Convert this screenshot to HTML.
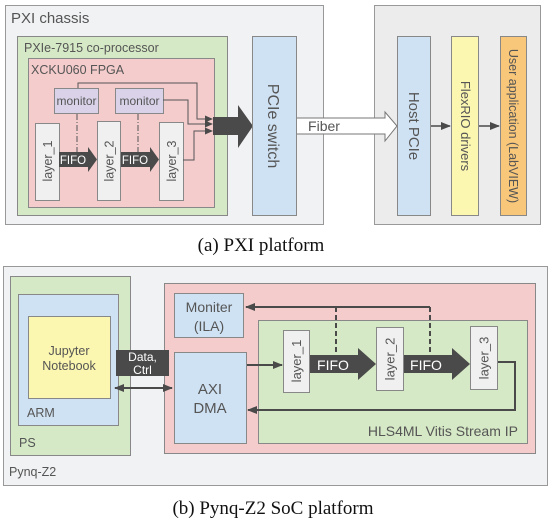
<!DOCTYPE html>
<html><head><style>html,body{margin:0;padding:0;background:#fff}svg{display:block}</style></head><body>
<svg width="550" height="522" viewBox="0 0 550 522" xmlns="http://www.w3.org/2000/svg" font-family="Liberation Sans, sans-serif" fill="#555">
<defs>
<marker id="ah" markerWidth="8" markerHeight="8" refX="7" refY="4" orient="auto" markerUnits="userSpaceOnUse"><path d="M0,0.5 L8,4 L0,7.5 z" fill="#4a4a4a"/></marker>
<marker id="as" markerWidth="10" markerHeight="8" refX="9" refY="4" orient="auto" markerUnits="userSpaceOnUse"><path d="M0,0 L10,4 L0,8 z" fill="#4a4a4a"/></marker>
<marker id="asr" markerWidth="10" markerHeight="8" refX="1" refY="4" orient="auto" markerUnits="userSpaceOnUse"><path d="M10,0 L0,4 L10,8 z" fill="#4a4a4a"/></marker>
</defs>
<!-- TOP -->
<rect x="5.5" y="5.5" width="318" height="219" fill="#f1f2f3" stroke="#999"/>
<text x="11" y="23" font-size="15">PXI chassis</text>
<rect x="17.5" y="36.5" width="210" height="179" fill="#d6e9c6" stroke="#888"/>
<text x="24" y="52" font-size="12.5">PXIe-7915 co-processor</text>
<rect x="28.5" y="58.5" width="186" height="149" fill="#f4cccc" stroke="#888"/>
<text x="31" y="74" font-size="12.5">XCKU060 FPGA</text>
<rect x="54.5" y="88.5" width="44" height="25" fill="#d9d2e9" stroke="#888"/>
<text x="76.5" y="105" font-size="12" text-anchor="middle">monitor</text>
<rect x="115.5" y="88.5" width="48" height="25" fill="#d9d2e9" stroke="#888"/>
<text x="139.5" y="105" font-size="12" text-anchor="middle">monitor</text>
<g stroke="#555" stroke-dasharray="6,2,1,2" stroke-width="1"><line x1="77" y1="114" x2="77" y2="152"/><line x1="138" y1="114" x2="138" y2="152"/></g>
<g fill="#f0f0f0" stroke="#888"><rect x="35.5" y="123.5" width="24" height="77"/><rect x="97.5" y="121.5" width="23" height="79"/><rect x="159.5" y="122.5" width="24" height="78"/></g>
<g font-size="12.5" text-anchor="middle">
<text transform="translate(52,161) rotate(-90)">layer_1</text>
<text transform="translate(113.5,161) rotate(-90)">layer_2</text>
<text transform="translate(176,161) rotate(-90)">layer_3</text></g>
<path d="M59,152 H88 V147 L97,159.5 L88,172 V167 H59 z" fill="#4a4a4a"/>
<path d="M121,152 H150 V147 L159,159.5 L150,172 V167 H121 z" fill="#4a4a4a"/>
<text x="73" y="164" font-size="11.5" fill="#fff" text-anchor="middle">FIFO</text>
<text x="135" y="164" font-size="11.5" fill="#fff" text-anchor="middle">FIFO</text>
<g fill="none" stroke="#555" stroke-width="1">
<polyline points="78,88 78,83 197,83 197,119 212,119" marker-end="url(#ah)"/>
<polyline points="163,100 188,100 188,124 212,124" marker-end="url(#ah)"/>
<polyline points="183,160 194,160 194,131 212,131" marker-end="url(#ah)"/></g>
<path d="M213,117 H238 V105 L253,126 L238,148 V135 H213 z" fill="#4a4a4a"/>
<rect x="252.5" y="36.5" width="44" height="179" fill="#cfe2f3" stroke="#888"/>
<text transform="translate(268,126) rotate(90)" font-size="16" text-anchor="middle">PCIe switch</text>
<rect x="374.5" y="5.5" width="166" height="219" fill="#ececec" stroke="#999"/>
<path d="M297,118 H385 V112 L397,126 L385,141 V134 H297" fill="#fff" stroke="#777"/>
<text x="324" y="131" font-size="14" text-anchor="middle">Fiber</text>
<rect x="397.5" y="36.5" width="33" height="179" fill="#cfe2f3" stroke="#888"/>
<text transform="translate(409,126) rotate(90)" font-size="15" text-anchor="middle">Host PCIe</text>
<rect x="451.5" y="36.5" width="27" height="179" fill="#fbf6b0" stroke="#888"/>
<text transform="translate(461,126) rotate(90)" font-size="13" text-anchor="middle">FlexRIO drivers</text>
<rect x="500.5" y="36.5" width="26" height="179" fill="#f9c77a" stroke="#888"/>
<text transform="translate(509,126) rotate(90)" font-size="12.5" text-anchor="middle">User application (LabVIEW)</text>
<g stroke="#4a4a4a" stroke-width="1.5"><line x1="431" y1="126" x2="450" y2="126" marker-end="url(#as)"/><line x1="479" y1="126" x2="499" y2="126" marker-end="url(#as)"/></g>
<text x="261" y="251" font-size="19" font-family="Liberation Serif, serif" fill="#111" text-anchor="middle">(a) PXI platform</text>
<!-- BOTTOM -->
<rect x="3.5" y="266.5" width="544" height="219" fill="#f1f2f3" stroke="#999"/>
<text x="9" y="476" font-size="12.5">Pynq-Z2</text>
<rect x="10.5" y="276.5" width="120" height="179" fill="#d6e9c6" stroke="#888"/>
<text x="19" y="447" font-size="12.5">PS</text>
<rect x="18.5" y="294.5" width="100" height="131" fill="#cfe2f3" stroke="#888"/>
<text x="27" y="417" font-size="12.5">ARM</text>
<rect x="28.5" y="316.5" width="82" height="82" fill="#fbf6b0" stroke="#888"/>
<text x="69" y="355" font-size="12.5" text-anchor="middle">Jupyter</text>
<text x="69" y="370" font-size="12.5" text-anchor="middle">Notebook</text>
<rect x="164.5" y="283.5" width="371" height="170" fill="#f4cccc" stroke="#888"/>
<rect x="174.5" y="293.5" width="69" height="44" fill="#cfe2f3" stroke="#888"/>
<text x="209" y="312" font-size="14" text-anchor="middle">Moniter</text>
<text x="209" y="331" font-size="14" text-anchor="middle">(ILA)</text>
<rect x="174.5" y="352.5" width="72" height="91" fill="#cfe2f3" stroke="#888"/>
<text x="210" y="394" font-size="15" text-anchor="middle">AXI</text>
<text x="210" y="413" font-size="15" text-anchor="middle">DMA</text>
<rect x="258.5" y="320.5" width="269" height="123" fill="#d6e9c6" stroke="#888"/>
<text x="518" y="436" font-size="14" text-anchor="end">HLS4ML Vitis Stream IP</text>
<g fill="#f0f0f0" stroke="#888"><rect x="283.5" y="330.5" width="26" height="62"/><rect x="376.5" y="327.5" width="27" height="63"/><rect x="470.5" y="326.5" width="27" height="63"/></g>
<g font-size="13" text-anchor="middle">
<text transform="translate(301,361) rotate(-90)">layer_1</text>
<text transform="translate(394.5,359) rotate(-90)">layer_2</text>
<text transform="translate(488.5,358) rotate(-90)">layer_3</text></g>
<path d="M310,355 H358 V348 L376,364 L358,380 V373 H310 z" fill="#4a4a4a"/>
<path d="M404,355 H452 V348 L470,364 L452,380 V373 H404 z" fill="#4a4a4a"/>
<text x="333" y="370" font-size="14" fill="#fff" text-anchor="middle">FIFO</text>
<text x="426" y="370" font-size="14" fill="#fff" text-anchor="middle">FIFO</text>
<g fill="none" stroke="#4a4a4a" stroke-width="2">
<line x1="336" y1="307" x2="336" y2="354" stroke-dasharray="5,3"/>
<line x1="430" y1="307" x2="430" y2="354" stroke-dasharray="5,3"/>
<line x1="430" y1="307" x2="246" y2="307" marker-end="url(#as)"/>
<line x1="247" y1="365" x2="282" y2="365" marker-end="url(#as)"/>
<polyline points="498,362 515,362 515,410 248,410" marker-end="url(#as)"/>
<line x1="115" y1="388" x2="172" y2="388" marker-start="url(#asr)" marker-end="url(#as)"/></g>
<rect x="116" y="350" width="53" height="26" fill="#4a4a4a"/>
<text x="142.5" y="361" font-size="12" fill="#fff" text-anchor="middle">Data,</text>
<text x="142.5" y="374" font-size="12" fill="#fff" text-anchor="middle">Ctrl</text>
<text x="273" y="514" font-size="19" font-family="Liberation Serif, serif" fill="#111" text-anchor="middle">(b) Pynq-Z2 SoC platform</text>
</svg>
</body></html>
